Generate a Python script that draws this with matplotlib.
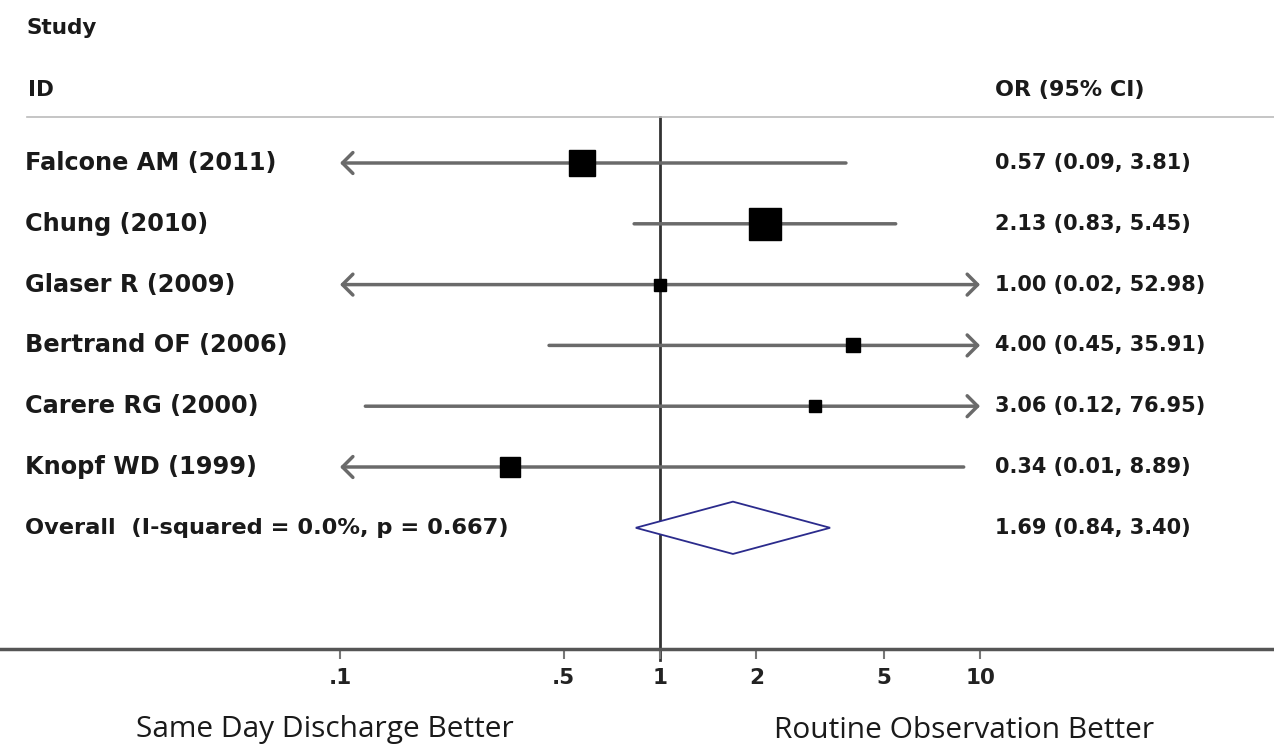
import numpy as np
import matplotlib
matplotlib.use('Agg')
import matplotlib.pyplot as plt

studies = ['Falcone AM (2011)', 'Chung (2010)', 'Glaser R (2009)',
           'Bertrand OF (2006)', 'Carere RG (2000)', 'Knopf WD (1999)']
odds = [0.57, 2.13, 1.00, 4.00, 3.06, 0.34]
ci_low = [0.09, 0.83, 0.02, 0.45, 0.12, 0.01]
ci_high = [3.81, 5.45, 52.98, 35.91, 76.95, 8.89]
weights = [27.6, 38.7, 4.6, 8.5, 5.4, 15.1]   # % weight

overall_label = 'Overall  (I-squared = 0.0%, p = 0.667)'
overall_or = 1.69
overall_low = 0.84
overall_high = 3.40

tick_vals = [0.1, 0.5, 1, 2, 5, 10]
tick_labels = ['.1', '.5', '1', '2', '5', '10']

W, H = 1274, 749
fig = plt.figure(figsize=(W / 100, H / 100), dpi=100)
fig.set_facecolor('white')

ax_bottom_px = 649
ax = fig.add_axes([0, (H - ax_bottom_px) / H, 1, ax_bottom_px / H])
ax.set_xscale('log')
ax.set_xlim(0.00866, 82.9)
row_h = 60.8
ax.set_ylim((ax_bottom_px - 163) / row_h, -163 / row_h)

for s in ['top', 'left', 'right']:
    ax.spines[s].set_visible(False)
ax.spines['bottom'].set_color('#555555')
ax.spines['bottom'].set_linewidth(2.5)
ax.set_yticks([])
ax.set_xticks(tick_vals)
ax.set_xticklabels(tick_labels)
ax.minorticks_off()
ax.tick_params(axis='x', length=7, width=1.5, color='#777777', pad=7,
               labelsize=15.5, labelcolor='#222222')
for lab in ax.get_xticklabels():
    lab.set_fontweight('bold')

lcol = '#6a6a6a'
xmin, xmax = tick_vals[0], tick_vals[-1]
n = len(studies)
ys = np.arange(n)

# reference line at 1 and top rule
ax.plot([1, 1], [-0.76, 8.17], color='#333333', lw=2, clip_on=False, zorder=1)
ax.plot([0.0105, 82.9], [-0.76, -0.76], color='#bbbbbb', lw=1.2, clip_on=False)

for y, o, lo, hi, w in zip(ys, odds, ci_low, ci_high, weights):
    left = '<' if lo < xmin else ''
    right = '>' if hi > xmax else ''
    style = left + '-' + right
    if style != '-':
        style += ', head_length=0.75, head_width=0.75'
    ax.annotate('', xy=(min(hi, xmax), y), xytext=(max(lo, xmin), y),
                arrowprops=dict(arrowstyle=style, color=lcol, lw=2.5,
                                shrinkA=0, shrinkB=0, mutation_scale=10),
                zorder=2)
    ax.plot(o, y, marker='s', ms=3.7 * np.sqrt(w), color='black', mec='black',
            zorder=3)

# pooled diamond
yo = n
dh = 0.43
ax.fill([overall_low, overall_or, overall_high, overall_or],
        [yo, yo - dh, yo, yo + dh], facecolor='white', edgecolor='#2b2b8c',
        lw=1.3, zorder=3)

tr = ax.get_yaxis_transform()
txt_kw = dict(color='#1a1a1a', fontweight='bold', va='center', transform=tr)
ax.text(27 / W, -2.22, 'Study', fontsize=15.5, **txt_kw)
ax.text(28 / W, -1.2, 'ID', fontsize=15.5, **txt_kw)
ax.text(995 / W, -1.2, 'OR (95% CI)', fontsize=16, **txt_kw)

for y, name, o, lo, hi in zip(ys, studies, odds, ci_low, ci_high):
    ax.text(25 / W, y, name, fontsize=17.3, **txt_kw)
    ax.text(995 / W, y, '%.2f (%.2f, %.2f)' % (o, lo, hi), fontsize=15, **txt_kw)
ax.text(25 / W, yo, overall_label, fontsize=16.2, **txt_kw)
ax.text(995 / W, yo, '%.2f (%.2f, %.2f)' % (overall_or, overall_low, overall_high),
        fontsize=15, **txt_kw)

fig.text(325 / W, 1 - 730 / H, 'Same Day Discharge Better', ha='center', va='center',
         fontsize=21.5, family=['Open Sans', 'DejaVu Sans'], color='#1a1a1a')
fig.text(964 / W, 1 - 730 / H, 'Routine Observation Better', ha='center', va='center',
         fontsize=21.5, family=['Open Sans', 'DejaVu Sans'], color='#1a1a1a')

fig.savefig('out.png', dpi=100, facecolor='white')
